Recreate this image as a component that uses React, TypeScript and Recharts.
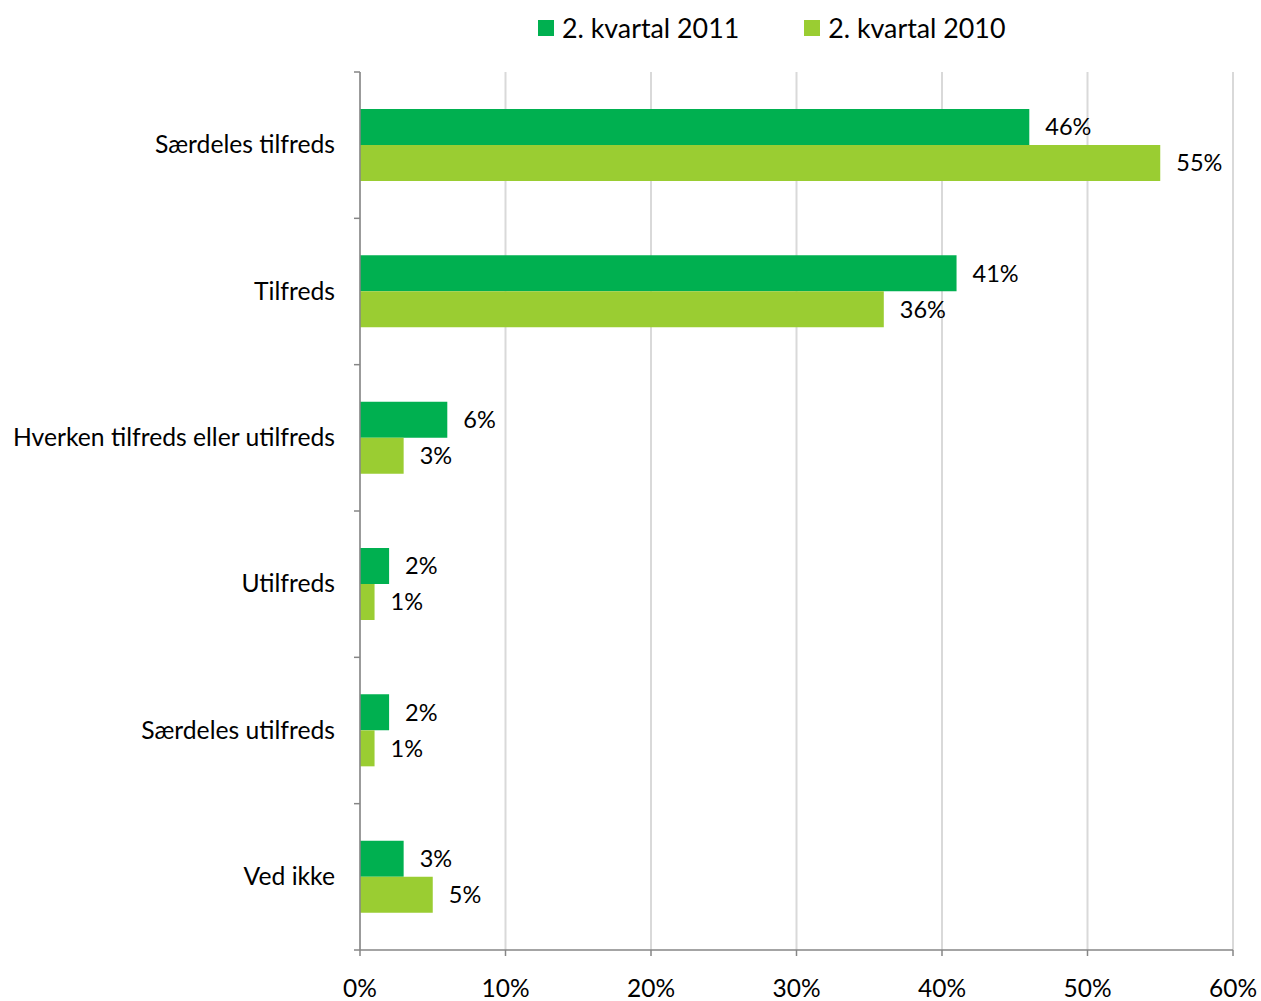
import React from "react";
import { BarChart, Bar, XAxis, YAxis, CartesianGrid, Legend, LabelList } from "recharts";

const categories = [
  "Særdeles tilfreds",
  "Tilfreds",
  "Hverken tilfreds eller utilfreds",
  "Utilfreds",
  "Særdeles utilfreds",
  "Ved ikke",
];
const series2011 = [0.46, 0.41, 0.06, 0.02, 0.02, 0.03];
const series2010 = [0.55, 0.36, 0.03, 0.01, 0.01, 0.05];
const seriesNames = ["2. kvartal 2011", "2. kvartal 2010"];
const seriesColors = ["#00B050", "#9ACD32"];
const xTicks = [0, 0.1, 0.2, 0.3, 0.4, 0.5, 0.6];

const data = categories.map((c, i) => ({ name: c, y2011: series2011[i], y2010: series2010[i] }));

const FONT = "Lato, 'Open Sans', sans-serif";
const TOP = 72;
const BOTTOM = 950;
const BAND = (BOTTOM - TOP) / categories.length;

const pct = (v: number) => `${Math.round(v * 100)}%`;

const YTick = (props: any) => {
  const { y, payload, index } = props;
  return (
    <g>
      <line x1={360} x2={354} y1={y - BAND / 2} y2={y - BAND / 2} stroke="#868686" strokeWidth={1.5} />
      {index === categories.length - 1 && (
        <line x1={360} x2={354} y1={y + BAND / 2} y2={y + BAND / 2} stroke="#868686" strokeWidth={1.5} />
      )}
      <text x={335} y={y} dy={8} textAnchor="end" fontSize={24.7} fill="#000" fontFamily={FONT}>
        {payload.value}
      </text>
    </g>
  );
};

const XTick = (props: any) => {
  const { x, payload } = props;
  return (
    <text x={x} y={BOTTOM} dy={47} textAnchor="middle" fontSize={24.5} fill="#000" fontFamily={FONT}>
      {pct(payload.value)}
    </text>
  );
};

const LegendContent = () => (
  <div style={{ display: "flex", alignItems: "center", paddingLeft: 538, fontFamily: FONT, fontSize: 26.8, color: "#000", lineHeight: "32px" }}>
    {seriesNames.map((n, i) => (
      <div key={n} style={{ display: "flex", alignItems: "center", marginRight: 65 }}>
        <div style={{ width: 16, height: 16, background: seriesColors[i], marginRight: 8 }} />
        <span>{n}</span>
      </div>
    ))}
  </div>
);

export default function App() {
  return (
    <div style={{ position: "absolute", left: 0, top: 0, background: "#fff" }}>
      <BarChart
        width={1261}
        height={1001}
        data={data}
        layout="vertical"
        margin={{ top: TOP, right: 28, left: 0, bottom: 21 }}
        barGap={0}
        barSize={36}
      >
        <CartesianGrid horizontal={false} stroke="#d9d9d9" strokeWidth={2} />
        <XAxis
          type="number"
          domain={[0, 0.6]}
          ticks={xTicks}
          stroke="#868686"
          strokeWidth={1.5}
          tickSize={6}
          height={30}
          tick={<XTick />}
          interval={0}
        />
        <YAxis
          type="category"
          dataKey="name"
          width={360}
          stroke="#868686"
          strokeWidth={1.5}
          tickLine={false}
          tick={<YTick />}
          interval={0}
        />
        <Legend
          verticalAlign="top"
          content={<LegendContent />}
          wrapperStyle={{ top: 12, left: 0, width: 1261, height: 0, overflow: "visible" }}
        />
        <Bar dataKey="y2011" name={seriesNames[0]} fill={seriesColors[0]} isAnimationActive={false}>
          <LabelList dataKey="y2011" position="right" offset={16} formatter={pct} fill="#000" fontSize={23.5} fontFamily={FONT} />
        </Bar>
        <Bar dataKey="y2010" name={seriesNames[1]} fill={seriesColors[1]} isAnimationActive={false}>
          <LabelList dataKey="y2010" position="right" offset={16} formatter={pct} fill="#000" fontSize={23.5} fontFamily={FONT} />
        </Bar>
      </BarChart>
    </div>
  );
}
